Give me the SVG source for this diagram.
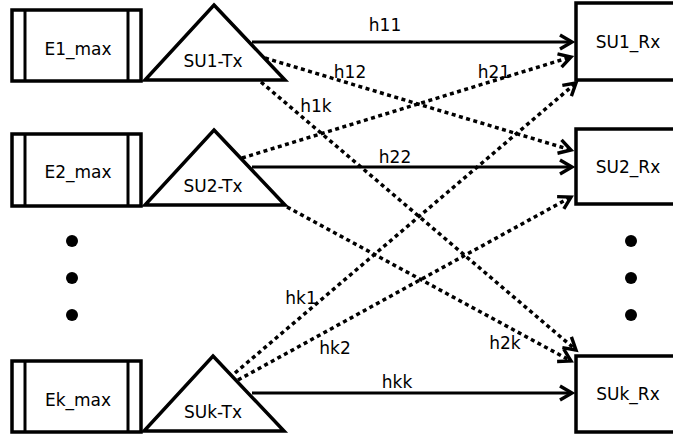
<svg xmlns="http://www.w3.org/2000/svg" width="673" height="439" viewBox="0 0 673 439">
<style>
.b{fill:#fff;stroke:#000;stroke-width:3.5}
.l{fill:none;stroke:#000;stroke-width:3}
.t{font-family:"DejaVu Sans",sans-serif;font-size:17px;fill:#000;text-anchor:middle}
.c{fill:none;stroke:#000;stroke-width:3}
.d{fill:none;stroke:#000;stroke-width:3.5;stroke-dasharray:4 3.5}
</style>
<defs>
<marker id="ah" markerUnits="userSpaceOnUse" markerWidth="20" markerHeight="20" refX="15" refY="10" orient="auto" overflow="visible">
<path d="M3,3 L15,10 L3,17" fill="none" stroke="#000" stroke-width="3.4"/>
</marker>
</defs>
<rect width="673" height="439" fill="#fff"/>
<g id="connectors">
<line class="c" x1="252" y1="42" x2="572" y2="42" marker-end="url(#ah)"/>
<line class="c" x1="252" y1="167" x2="572" y2="167" marker-end="url(#ah)"/>
<line class="c" x1="252" y1="393" x2="572" y2="393" marker-end="url(#ah)"/>
<line class="d" x1="265" y1="58" x2="571" y2="150" marker-end="url(#ah)"/>
<line class="d" x1="261" y1="82" x2="576" y2="350" marker-end="url(#ah)"/>
<line class="d" x1="242" y1="158" x2="571" y2="57" marker-end="url(#ah)"/>
<line class="d" x1="287" y1="207" x2="571" y2="361" marker-end="url(#ah)"/>
<line class="d" x1="235" y1="373" x2="576" y2="83" marker-end="url(#ah)"/>
<line class="d" x1="238" y1="380" x2="571" y2="197" marker-end="url(#ah)"/>
<text class="t" x="385" y="31">h11</text>
<text class="t" x="350" y="78">h12</text>
<text class="t" x="494" y="78">h21</text>
<text class="t" x="316" y="112">h1k</text>
<text class="t" x="395" y="163">h22</text>
<text class="t" x="301" y="304">hk1</text>
<text class="t" x="335" y="354">hk2</text>
<text class="t" x="505" y="349">h2k</text>
<text class="t" x="397" y="388">hkk</text>
</g>
<g id="E1_max">
<rect class="b" x="12" y="10" width="129" height="71"/>
<line class="l" x1="25" y1="10" x2="25" y2="81"/>
<line class="l" x1="128" y1="10" x2="128" y2="81"/>
<text class="t" x="78" y="55">E1_max</text>
</g>
<g id="E2_max">
<rect class="b" x="12" y="134" width="129" height="72"/>
<line class="l" x1="25" y1="134" x2="25" y2="206"/>
<line class="l" x1="128" y1="134" x2="128" y2="206"/>
<text class="t" x="78" y="178">E2_max</text>
</g>
<g id="Ek_max">
<rect class="b" x="12" y="361" width="129" height="71"/>
<line class="l" x1="25" y1="361" x2="25" y2="432"/>
<line class="l" x1="128" y1="361" x2="128" y2="432"/>
<text class="t" x="78" y="406">Ek_max</text>
</g>
<g id="SU1-Tx">
<polygon class="b" points="214,5 285,80 145,80"/>
<text class="t" x="213" y="67">SU1-Tx</text>
</g>
<g id="SU2-Tx">
<polygon class="b" points="214,130 285,205 145,205"/>
<text class="t" x="213" y="192">SU2-Tx</text>
</g>
<g id="SUk-Tx">
<polygon class="b" points="213,356 284,431 144,431"/>
<text class="t" x="213" y="418">SUk-Tx</text>
</g>
<g id="SU1_Rx">
<rect class="b" x="576" y="3" width="100" height="77"/>
<text class="t" x="628" y="48">SU1_Rx</text>
</g>
<g id="SU2_Rx">
<rect class="b" x="576" y="129" width="100" height="75"/>
<text class="t" x="628" y="173">SU2_Rx</text>
</g>
<g id="SUk_Rx">
<rect class="b" x="576" y="356" width="100" height="76"/>
<text class="t" x="628" y="400">SUk_Rx</text>
</g>
<g id="dots">
<circle cx="72" cy="241" r="6"/>
<circle cx="72" cy="278" r="6"/>
<circle cx="72" cy="315" r="6"/>
<circle cx="631" cy="241" r="6"/>
<circle cx="631" cy="278" r="6"/>
<circle cx="631" cy="315" r="6"/>
</g>
</svg>
